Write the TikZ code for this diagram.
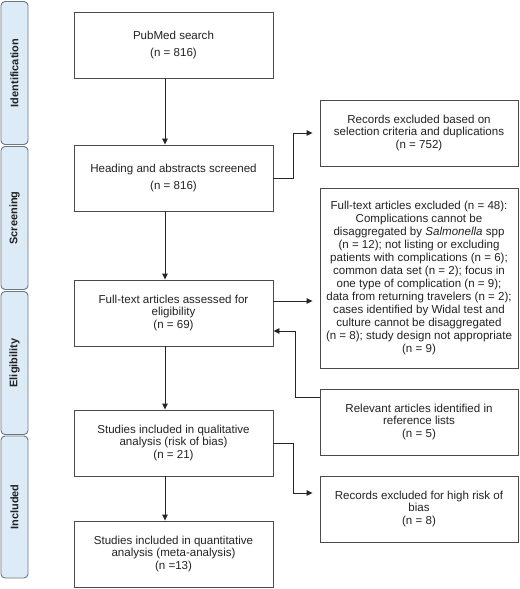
\documentclass[tikz,border=0pt]{standalone}
\usepackage{fontspec}
\setmainfont{Liberation Sans}
\usetikzlibrary{arrows.meta}
\definecolor{prismaEdge}{HTML}{4A4A4A}
\definecolor{prismaBand}{HTML}{DDEBF7}
\definecolor{prismaBandEdge}{HTML}{6B7785}
\definecolor{prismaText}{HTML}{222222}
\tikzset{
  flow/.style={-{Triangle[length=6bp,width=5.5bp]}, line width=0.9bp, draw=black!85},
  gap/.style={shorten >=7bp},
  stage box/.style={draw=prismaEdge, fill=white, line width=0.9bp,
    align=center, minimum width=199bp, minimum height=66bp,
    inner sep=2pt, text=prismaText, font=\fontsize{11.6}{13}\selectfont},
  side box/.style={stage box, minimum width=198bp},
  band/.style={draw=prismaBandEdge, fill=prismaBand, rounded corners=4bp,
    line width=0.9bp, minimum height=27bp, minimum width=143bp,
    inner sep=0pt, rotate=90, text=prismaText,
    font=\bfseries\fontsize{11}{12}\selectfont}
}

\begin{document}
\begin{tikzpicture}[x=1bp, y=-1bp]
  \useasboundingbox (0,0) rectangle (520,589);
  % stage bands
  \node[band] (ident) at (14.5,73) {Identification};
  \node[band] (screen) at (14.5,218) {Screening};
  \node[band] (elig) at (14.5,363) {Eligibility};
  \node[band, minimum width=142bp] (incl) at (14.5,507) {Included};
  % main column
  \node[stage box] (pub) at (173.5,45) {PubMed search\\[4bp](n = 816)};
  \node[stage box] (head) at (173.5,178) {Heading and abstracts screened\\[4bp](n = 816)};
  \node[stage box] (assess) at (173.5,313)
    {Full-text articles assessed for\\eligibility\\(n = 69)};
  \node[stage box] (qual) at (173.5,443)
    {Studies included in qualitative\\analysis (risk of bias)\\(n = 21)};
  \node[stage box] (quant) at (173.5,554)
    {Studies included in quantitative\\analysis (meta-analysis)\\(n =13)};
  % side column
  \node[side box] (excl) at (419,133)
    {Records excluded based on\\selection criteria and duplications\\(n = 752)};
  \node[side box, minimum height=180bp] (ftexcl) at (419,278)
    {Full-text articles excluded (n = 48):\\Complications cannot be\\
     disaggregated by \textit{Salmonella} spp\\(n = 12); not listing or excluding\\
     patients with complications (n = 6);\\common data set (n = 2); focus in\\
     one type of complication (n = 9);\\data from returning travelers (n = 2);\\
     cases identified by Widal test and\\culture cannot be disaggregated\\
     (n = 8); study design not appropriate\\(n = 9)};
  \node[side box] (refs) at (419,422)
    {Relevant articles identified in\\reference lists\\(n = 5)};
  \node[side box] (bias) at (419,509)
    {Records excluded for high risk of\\bias\\(n = 8)};
  % connectors
  \coordinate (spine) at (165,0);
  \draw[flow] (pub.south -| spine) -- (head.north -| spine);
  \draw[flow] (head.south -| spine) -- (assess.north -| spine);
  \draw[flow] (assess.south -| spine) -- (qual.north -| spine);
  \draw[flow] (qual.south -| spine) -- (quant.north -| spine);
  \draw[flow, gap] (head.east) -- ++(20,0) |- (excl.west);
  \coordinate (assessOut) at ([yshift=12bp]assess.east);
  \draw[flow, gap] (assessOut) -- (assessOut -| ftexcl.west);
  \coordinate (refsOut) at ([yshift=25bp]refs.west);
  \coordinate (assessIn) at ([yshift=-18bp]assess.east);
  \draw[flow] (refsOut) -- ++(-24,0) |- (assessIn);
  \coordinate (biasIn) at ([yshift=16bp]bias.west);
  \draw[flow, gap] (qual.east) -- ++(20,0) |- (biasIn);
\end{tikzpicture}
\end{document}
